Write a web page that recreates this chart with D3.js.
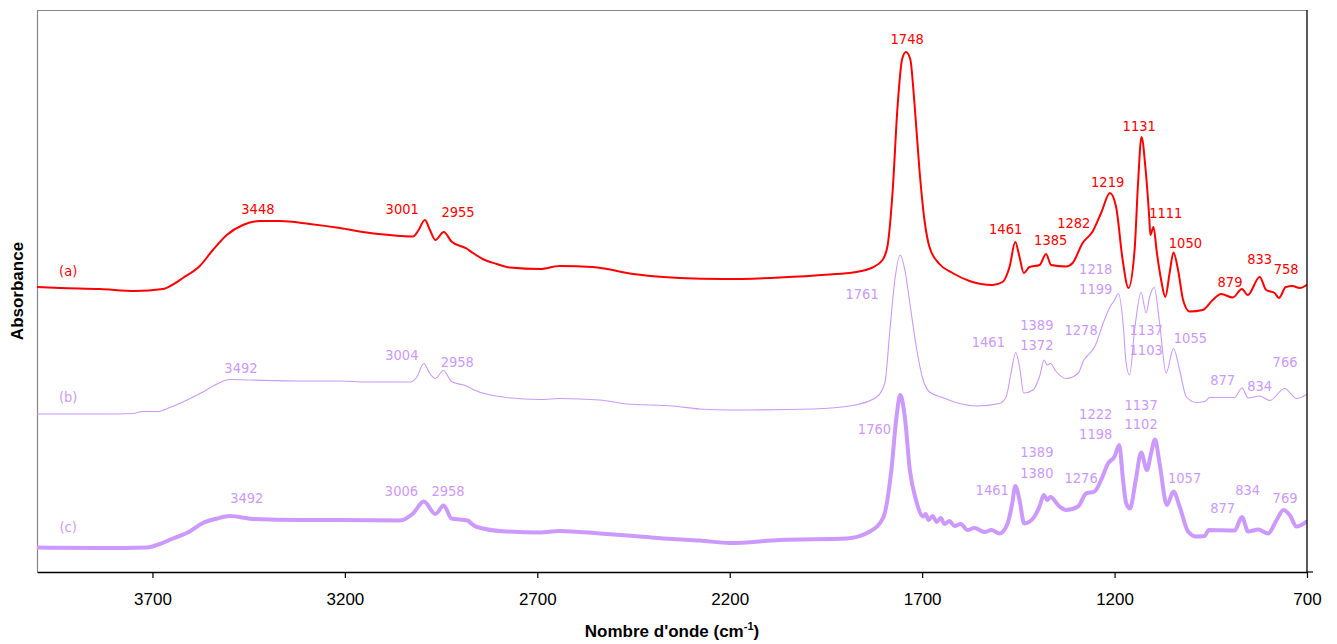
<!DOCTYPE html>
<html>
<head>
<meta charset="utf-8">
<script src="https://cdn.jsdelivr.net/npm/d3@7"></script>
<style>
  html, body { margin: 0; padding: 0; background: #ffffff; }
  svg { display: block; }
</style>
</head>
<body>
<svg id="chart" width="1337" height="644"></svg>
<script>
// ---------------- DATA ----------------
const xTicks = [3700, 3200, 2700, 2200, 1700, 1200, 700];

// (a) spectrum
const wnA = [4000,3940,3836,3745,3673,3649,3621,3577,3543,3507,3465,3421,3369,3291,3213,3135,3083,3023,3010,2992,2979,2965,2943,2923,2884,2867,2842,2805,2771,2693,2642,2556,2519,2467,2390,2330,2218,2070,1940,1880,1829,1803,1790,1777,1764,1752,1742,1731,1720,1707,1694,1681,1655,1621,1577,1517,1491,1473,1458,1447,1436,1421,1395,1378,1365,1326,1309,1283,1257,1235,1212,1196,1179,1164,1148,1139,1130,1120,1110,1107,1099,1090,1079,1068,1057,1047,1035,1022,1005,971,945,923,893,869,854,823,806,784,773,755,738,719,701];
const absA = [0.285,0.284,0.283,0.281,0.283,0.287,0.294,0.306,0.322,0.337,0.347,0.351,0.351,0.348,0.344,0.339,0.337,0.3355,0.341,0.352,0.342,0.332,0.340,0.3305,0.3235,0.319,0.313,0.308,0.3045,0.303,0.306,0.305,0.303,0.299,0.2955,0.294,0.293,0.2945,0.2975,0.2995,0.3045,0.312,0.326,0.379,0.465,0.513,0.520,0.513,0.469,0.402,0.352,0.325,0.308,0.299,0.291,0.287,0.290,0.305,0.330,0.315,0.299,0.305,0.307,0.318,0.307,0.3055,0.309,0.329,0.3405,0.359,0.379,0.365,0.312,0.284,0.322,0.389,0.435,0.405,0.355,0.337,0.345,0.319,0.292,0.275,0.299,0.3195,0.302,0.272,0.2605,0.262,0.272,0.278,0.2745,0.283,0.277,0.295,0.282,0.279,0.274,0.285,0.286,0.284,0.287];

// (b) spectrum
const wnB = [4000,3836,3751,3725,3688,3655,3610,3569,3532,3499,3447,3317,3213,3143,3031,3013,2995,2979,2965,2944,2923,2884,2867,2781,2693,2642,2538,2467,2348,2278,2200,1984,1880,1818,1797,1784,1771,1757,1745,1732,1716,1699,1681,1647,1603,1558,1499,1482,1469,1457,1447,1436,1412,1395,1383,1375,1367,1352,1326,1295,1280,1265,1252,1230,1212,1200,1190,1178,1170,1161,1148,1131,1118,1109,1097,1083,1066,1047,1031,1014,988,966,953,888,869,853,823,797,758,727,701];
const absB = [0.158,0.158,0.1585,0.1605,0.1605,0.1645,0.172,0.180,0.188,0.1925,0.192,0.191,0.191,0.190,0.190,0.195,0.2085,0.1985,0.1935,0.2015,0.1905,0.186,0.1825,0.1745,0.1725,0.1735,0.172,0.168,0.166,0.163,0.162,0.163,0.1665,0.175,0.189,0.241,0.292,0.317,0.302,0.269,0.227,0.194,0.180,0.1745,0.1685,0.166,0.1685,0.175,0.199,0.2195,0.2055,0.179,0.182,0.1955,0.212,0.207,0.2085,0.2005,0.1935,0.1985,0.212,0.2185,0.225,0.2485,0.265,0.272,0.2785,0.249,0.209,0.197,0.242,0.2795,0.259,0.275,0.2845,0.249,0.199,0.2235,0.202,0.1755,0.1695,0.1705,0.1745,0.1745,0.184,0.174,0.176,0.1715,0.1835,0.1735,0.1775];

// (c) spectrum
const wnC = [4000,3836,3714,3681,3647,3603,3569,3532,3499,3439,3317,3213,3057,3023,2995,2965,2943,2923,2881,2870,2857,2781,2693,2642,2538,2434,2348,2278,2200,2070,1896,1836,1801,1780,1767,1757,1745,1732,1716,1697,1691,1683,1673,1662,1652,1642,1629,1616,1600,1582,1564,1538,1520,1499,1478,1466,1458,1447,1435,1412,1395,1384,1375,1367,1343,1326,1295,1274,1252,1235,1217,1200,1188,1178,1170,1160,1145,1131,1116,1105,1095,1083,1064,1047,1031,1009,988,966,955,888,869,853,827,801,779,761,745,727,701];
const absC = [0.0245,0.024,0.0245,0.028,0.0335,0.0405,0.049,0.0535,0.056,0.053,0.052,0.052,0.0515,0.0585,0.0705,0.058,0.0665,0.0535,0.0515,0.048,0.045,0.0405,0.0395,0.041,0.0385,0.0355,0.033,0.0315,0.029,0.032,0.0335,0.0405,0.0545,0.102,0.154,0.177,0.155,0.102,0.072,0.0555,0.058,0.052,0.056,0.050,0.054,0.048,0.051,0.046,0.048,0.042,0.044,0.040,0.042,0.0385,0.0485,0.0685,0.086,0.072,0.0485,0.0535,0.0655,0.077,0.072,0.075,0.0655,0.062,0.0655,0.0785,0.0805,0.092,0.1085,0.1155,0.127,0.092,0.069,0.0635,0.092,0.1195,0.102,0.119,0.1325,0.1085,0.067,0.0805,0.0655,0.0405,0.0355,0.036,0.042,0.0415,0.055,0.0405,0.0425,0.0385,0.052,0.062,0.057,0.0455,0.0505];

// peak labels: [text, wavenumber, absorbance]
const labelsA = [["(a)",3919,0.296],["3448",3426,0.358],["3001",3051,0.358],["2955",2906,0.355],["1748",1739,0.528],["1461",1483,0.338],["1385",1366,0.327],["1282",1306,0.344],["1219",1218,0.385],["1131",1136,0.441],["1111",1067,0.354],["1050",1016,0.324],["879",900,0.285],["833",823,0.308],["758",754,0.298]];
const labelsB = [["(b)",3919,0.170],["3492",3470,0.199],["3004",3052,0.212],["2958",2908,0.205],["1761",1856,0.273],["1461",1528,0.225],["1389",1402,0.242],["1372",1402,0.222],["1278",1287,0.237],["1218",1249,0.298],["1199",1249,0.278],["1137",1118,0.237],["1103",1118,0.217],["1055",1003,0.229],["877",919,0.187],["834",823,0.181],["766",757,0.205]];
const labelsC = [["(c)",3919,0.040],["3492",3455,0.069],["3006",3053,0.076],["2958",2932,0.076],["1760",1824,0.138],["1461",1518,0.077],["1389",1402,0.115],["1380",1402,0.094],["1276",1287,0.089],["1222",1249,0.153],["1198",1249,0.133],["1137",1131,0.162],["1102",1131,0.143],["1057",1018,0.089],["877",919,0.059],["834",854,0.077],["769",757,0.069]];

const xDomain = [4000, 700];
const yDomain = [0, 0.562];

// ---------------- CHART ----------------
const svg = d3.select("#chart");
const L = 37, R = 1307, T = 10, B = 572;

svg.append("rect").attr("x",0).attr("y",0).attr("width",1337).attr("height",644).attr("fill","#fff");

const x = d3.scaleLinear().domain(xDomain).range([L, R]);
const y = d3.scaleLinear().domain(yDomain).range([B, T]);

// plot area border (top, left) in grey
svg.append("line").attr("x1",L).attr("x2",R).attr("y1",T+0.5).attr("y2",T+0.5)
  .attr("stroke","#878787").attr("stroke-width",1.2);
svg.append("line").attr("x1",L+0.5).attr("x2",L+0.5).attr("y1",T).attr("y2",B)
  .attr("stroke","#878787").attr("stroke-width",1.2);

const series = [
  {wn: wnA, ab: absA, color: "#ff0000", width: 2,   labels: labelsA},
  {wn: wnB, ab: absB, color: "#cc99ff", width: 1.1, labels: labelsB},
  {wn: wnC, ab: absC, color: "#cc99ff", width: 4,   labels: labelsC}
];

const line = d3.line()
  .x(d => x(d[0]))
  .y(d => y(d[1]))
  .curve(d3.curveMonotoneX);

const clip = svg.append("defs").append("clipPath").attr("id","plotclip");
clip.append("rect").attr("x",L).attr("y",T).attr("width",R-L).attr("height",B-T);

const gLines = svg.append("g").attr("clip-path","url(#plotclip)");
series.forEach(s => {
  const pts = d3.zip(s.wn, s.ab);
  gLines.append("path")
    .datum(pts)
    .attr("fill","none")
    .attr("stroke", s.color)
    .attr("stroke-width", s.width)
    .attr("stroke-linejoin","round")
    .attr("stroke-linecap","round")
    .attr("d", line);
});

series.forEach(s => {
  svg.append("g").selectAll("text")
    .data(s.labels)
    .join("text")
    .attr("x", d => x(d[1]))
    .attr("y", d => y(d[2]))
    .attr("text-anchor","middle")
    .attr("font-family","'DejaVu Sans Condensed', 'DejaVu Sans', sans-serif")
    .attr("font-size", 14.5)
    .attr("fill", s.color)
    .text(d => d[0]);
});

// x axis
const xAxis = d3.axisBottom(x)
  .tickValues(xTicks)
  .tickFormat(d3.format("d"))
  .tickSizeInner(6)
  .tickSizeOuter(0)
  .tickPadding(15);

const gx = svg.append("g").attr("transform", `translate(0,${B})`).call(xAxis);
gx.select(".domain").attr("stroke","#000").attr("stroke-width",1.3);
gx.selectAll(".tick line").attr("stroke","#000").attr("stroke-width",1.2);
gx.selectAll(".tick text")
  .attr("font-family","'Liberation Sans', Arial, sans-serif")
  .attr("font-size",17)
  .attr("fill","#000");

// y axis on the right (value axis crossing at 700)
svg.append("line").attr("x1",R).attr("x2",R).attr("y1",T).attr("y2",B)
  .attr("stroke","#000").attr("stroke-width",1.3);
svg.append("line").attr("x1",R).attr("x2",R+6).attr("y1",B).attr("y2",B)
  .attr("stroke","#000").attr("stroke-width",1.2);

// titles
svg.append("text")
  .attr("transform", `translate(23,${(T+B)/2}) rotate(-90)`)
  .attr("text-anchor","middle")
  .attr("font-family","'Liberation Sans', Arial, sans-serif")
  .attr("font-weight","bold")
  .attr("font-size",17)
  .text("Absorbance");

const xt = svg.append("text")
  .attr("x",(L+R)/2).attr("y",637)
  .attr("text-anchor","middle")
  .attr("font-family","'Liberation Sans', Arial, sans-serif")
  .attr("font-weight","bold")
  .attr("font-size",17);
xt.append("tspan").text("Nombre d'onde (cm");
xt.append("tspan").attr("dy",-7).attr("font-size",11).text("-1");
xt.append("tspan").attr("dy",7).text(")");
</script>
</body>
</html>
